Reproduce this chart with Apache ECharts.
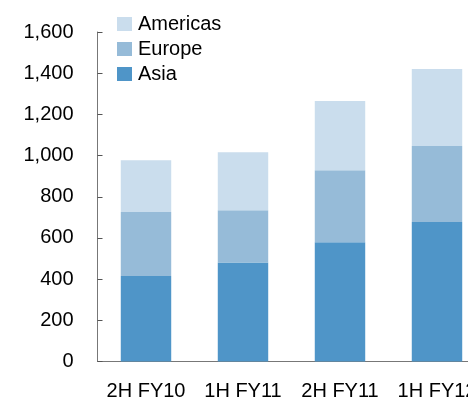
<!DOCTYPE html>
<html>
<head>
<meta charset="utf-8">
<script src="https://cdn.jsdelivr.net/npm/echarts@6/dist/echarts.min.js"></script>
<style>
  html, body { margin: 0; padding: 0; background: #fff; }
  #chart { width: 468px; height: 401px; }
</style>
</head>
<body>
<div id="chart"></div>
<script>
// Revenue by region, stacked per half-year
const categories = ['2H FY10', '1H FY11', '2H FY11', '1H FY12'];
const asia = [415, 481, 579, 677];
const europe = [311, 253, 350, 369];
const americas = [251, 282, 336, 374];
const yTicks = { min: 0, max: 1600, interval: 200 };

const colors = { asia: '#4f95c8', europe: '#96bbd8', americas: '#cadded' };
const font = 'Liberation Sans, Arial, sans-serif';

const chart = echarts.init(document.getElementById('chart'), null, { renderer: 'canvas' });

const bar = (name, data, color) => ({
  name, type: 'bar', stack: 'total', data,
  barWidth: '52%',
  itemStyle: { color },
  emphasis: { disabled: true }
});

chart.setOption({
  animation: false,
  // the plot runs past the right edge, so the last bar is clipped
  grid: {
    left: 97.5, top: 32, width: 388, bottom: 39.5,
    containLabel: false, outerBoundsMode: 'none'
  },
  legend: {
    left: 112, top: 9, orient: 'vertical',
    itemWidth: 15, itemHeight: 14, itemGap: 5,
    icon: 'rect',
    textStyle: { fontFamily: font, fontSize: 20, color: '#000', padding: [0, 0, 0, 1] },
    data: ['Americas', 'Europe', 'Asia']
  },
  xAxis: {
    type: 'category', data: categories,
    axisLine: { lineStyle: { color: '#777', width: 1 } },
    axisTick: { inside: true, length: 5, lineStyle: { color: '#555' } },
    axisLabel: { fontFamily: font, fontSize: 20, color: '#000', margin: 20, interval: 0 }
  },
  yAxis: {
    type: 'value', min: yTicks.min, max: yTicks.max, interval: yTicks.interval,
    axisLine: { show: true, lineStyle: { color: '#777', width: 1 } },
    axisTick: { show: true, inside: true, length: 5, lineStyle: { color: '#555' } },
    splitLine: { show: false },
    axisLabel: {
      fontFamily: font, fontSize: 20, color: '#000', margin: 24,
      formatter: v => v.toLocaleString('en-US')
    }
  },
  series: [
    bar('Asia', asia, colors.asia),
    bar('Europe', europe, colors.europe),
    bar('Americas', americas, colors.americas)
  ]
});
</script>
</body>
</html>
